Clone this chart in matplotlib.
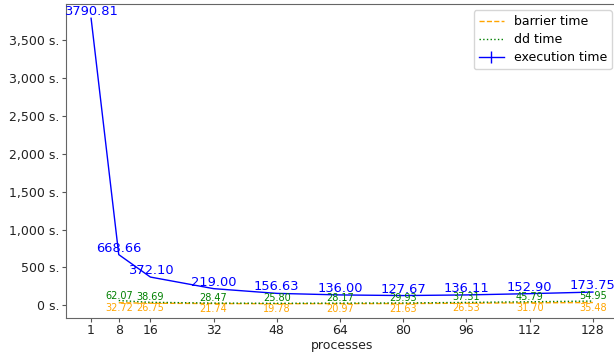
import matplotlib
matplotlib.use("Agg")
import matplotlib.pyplot as plt
from matplotlib.ticker import FuncFormatter

processes = [1, 8, 16, 32, 48, 64, 80, 96, 112, 128]
execution_time = [3790.81, 668.66, 372.10, 219.00, 156.63, 136.00, 127.67, 136.11, 152.90, 173.75]
execution_err = [0, 0, 0, 0, 0, 0, 0, 0, 0, 0]
dd_procs = [8, 16, 32, 48, 64, 80, 96, 112, 128]
dd_time = [62.07, 38.69, 28.47, 25.80, 28.17, 29.93, 37.31, 45.79, 54.95]
barrier_time = [32.72, 26.75, 21.74, 19.78, 20.97, 21.63, 26.53, 31.70, 35.48]

fig = plt.figure(figsize=(6.14, 3.57), dpi=100)
ax = fig.add_axes([66/614, 1-318/357, (618-66)/614, (318-4)/357])

ax.plot(dd_procs, barrier_time, linestyle='--', color='orange', lw=1, label='barrier time')
ax.plot(dd_procs, dd_time, linestyle=':', color='green', lw=1, label='dd time')
ax.errorbar(processes, execution_time, yerr=execution_err, color='blue', lw=1, label='execution time')

for x, y in zip(processes, execution_time):
    ax.text(x, y, f"{y:.2f}", color='blue', ha='center', va='bottom', fontsize=9.4)
for x, y in zip(dd_procs, dd_time):
    ax.text(x, y, f"{y:.2f}", color='green', ha='center', va='bottom', fontsize=7)
for x, y in zip(dd_procs, barrier_time):
    ax.text(x, y, f"{y:.2f}", color='orange', ha='center', va='top', fontsize=7)

ax.set_xticks(processes)
ax.yaxis.set_major_formatter(FuncFormatter(lambda v, p: f"{v:,.0f} s."))
ax.set_xlabel('processes', fontsize=9, color='#222222', labelpad=1)
ax.tick_params(labelsize=9, colors='#555555', labelcolor='#222222', length=3, pad=1.5)
for s in ax.spines.values():
    s.set_color('#666666')
ax.legend(loc='upper right', fontsize=9, labelspacing=0.4)

fig.savefig('out.png', dpi=100)
